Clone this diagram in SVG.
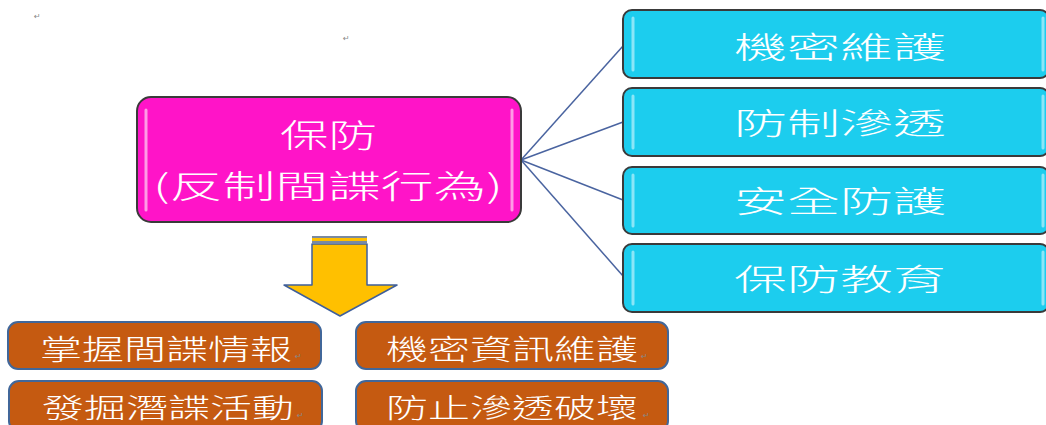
<svg xmlns="http://www.w3.org/2000/svg" width="1046" height="425" viewBox="0 0 1046 425">
<style>
.t{font-family:"Noto Sans CJK TC","Noto Sans CJK SC",sans-serif;fill:#ffffff;font-weight:300}
.pm{font-family:"DejaVu Sans",sans-serif;font-size:8px;fill:#888888}
.cy{fill:#1ccdee;stroke:#3a3a3a;stroke-width:2}
.hl{stroke:#8be6f7;stroke-width:3;stroke-linecap:round}
.or{fill:#c55a11;stroke:#41679a;stroke-width:2}
.con{stroke:#4a64a0;stroke-width:1.5;fill:none}
</style>
<rect width="1046" height="425" fill="#ffffff"/>
<text class="pm" x="34" y="19">↵</text>
<text class="pm" x="343" y="41">↵</text>
<g id="connectors">
<line class="con" x1="521" y1="160" x2="623" y2="46"/>
<line class="con" x1="521" y1="160" x2="623" y2="122"/>
<line class="con" x1="521" y1="160" x2="623" y2="200"/>
<line class="con" x1="521" y1="160" x2="623" y2="276"/>
</g>
<g id="main">
<rect x="137" y="97" width="384" height="125" rx="14" fill="#ff14c8" stroke="#3a3a3a" stroke-width="2"/>
<line x1="146" y1="110" x2="146" y2="210" stroke="#ff9ae6" stroke-width="3" stroke-linecap="round"/>
<line x1="512" y1="110" x2="512" y2="210" stroke="#ff9ae6" stroke-width="3" stroke-linecap="round"/>
<text class="t" x="280" y="147" font-size="32" textLength="97" lengthAdjust="spacingAndGlyphs">保防</text>
<text class="t" x="153" y="198" font-size="32" textLength="350" lengthAdjust="spacingAndGlyphs">(反制間諜行為)</text>
</g>
<g id="c1">
<rect class="cy" x="623" y="10" width="426" height="68" rx="9"/>
<line class="hl" x1="633" y1="18" x2="633" y2="70"/>
<line class="hl" x1="1043" y1="18" x2="1043" y2="70"/>
<text class="t" x="734" y="58" font-size="30" textLength="212" lengthAdjust="spacingAndGlyphs">機密維護</text>
</g>
<g id="c2">
<rect class="cy" x="623" y="88" width="426" height="68" rx="9"/>
<line class="hl" x1="633" y1="96" x2="633" y2="148"/>
<line class="hl" x1="1043" y1="96" x2="1043" y2="148"/>
<text class="t" x="734" y="134" font-size="30" textLength="212" lengthAdjust="spacingAndGlyphs">防制滲透</text>
</g>
<g id="c3">
<rect class="cy" x="623" y="167" width="426" height="67" rx="9"/>
<line class="hl" x1="633" y1="175" x2="633" y2="226"/>
<line class="hl" x1="1043" y1="175" x2="1043" y2="226"/>
<text class="t" x="734" y="212" font-size="30" textLength="212" lengthAdjust="spacingAndGlyphs">安全防護</text>
</g>
<g id="c4">
<rect class="cy" x="623" y="244" width="426" height="68" rx="9"/>
<line class="hl" x1="633" y1="252" x2="633" y2="304"/>
<line class="hl" x1="1043" y1="252" x2="1043" y2="304"/>
<text class="t" x="734" y="290" font-size="30" textLength="212" lengthAdjust="spacingAndGlyphs">保防教育</text>
</g>
<g id="arrow">
<rect x="312" y="236" width="55" height="2" fill="#7a8aa0"/>
<rect x="312" y="238" width="55" height="3" fill="#ffc000"/>
<rect x="312" y="241" width="55" height="2" fill="#7a8aa0"/>
<path d="M312,244 L367,244 L367,285 L397,285 L340,316 L284,285 L312,285 Z" fill="#ffc000" stroke="#3f5f9a" stroke-width="1.5" stroke-linejoin="round"/>
</g>
<g id="o1">
<rect class="or" x="8" y="322" width="313" height="47" rx="10"/>
<text class="t" x="40" y="360" font-size="28" textLength="252" lengthAdjust="spacingAndGlyphs">掌握間諜情報</text>
<text class="pm" x="295" y="359">↵</text>
</g>
<g id="o2">
<rect class="or" x="356" y="322" width="312" height="47" rx="10"/>
<text class="t" x="386" y="360" font-size="28" textLength="252" lengthAdjust="spacingAndGlyphs">機密資訊維護</text>
<text class="pm" x="641" y="359">↵</text>
</g>
<g id="o3">
<rect class="or" x="9" y="381" width="313" height="50" rx="10"/>
<text class="t" x="42" y="418" font-size="27" textLength="252" lengthAdjust="spacingAndGlyphs">發掘潛諜活動</text>
<text class="pm" x="297" y="418">↵</text>
</g>
<g id="o4">
<rect class="or" x="356" y="381" width="312" height="50" rx="10"/>
<text class="t" x="386" y="418" font-size="27" textLength="252" lengthAdjust="spacingAndGlyphs">防止滲透破壞</text>
<text class="pm" x="643" y="418">↵</text>
</g>
</svg>
